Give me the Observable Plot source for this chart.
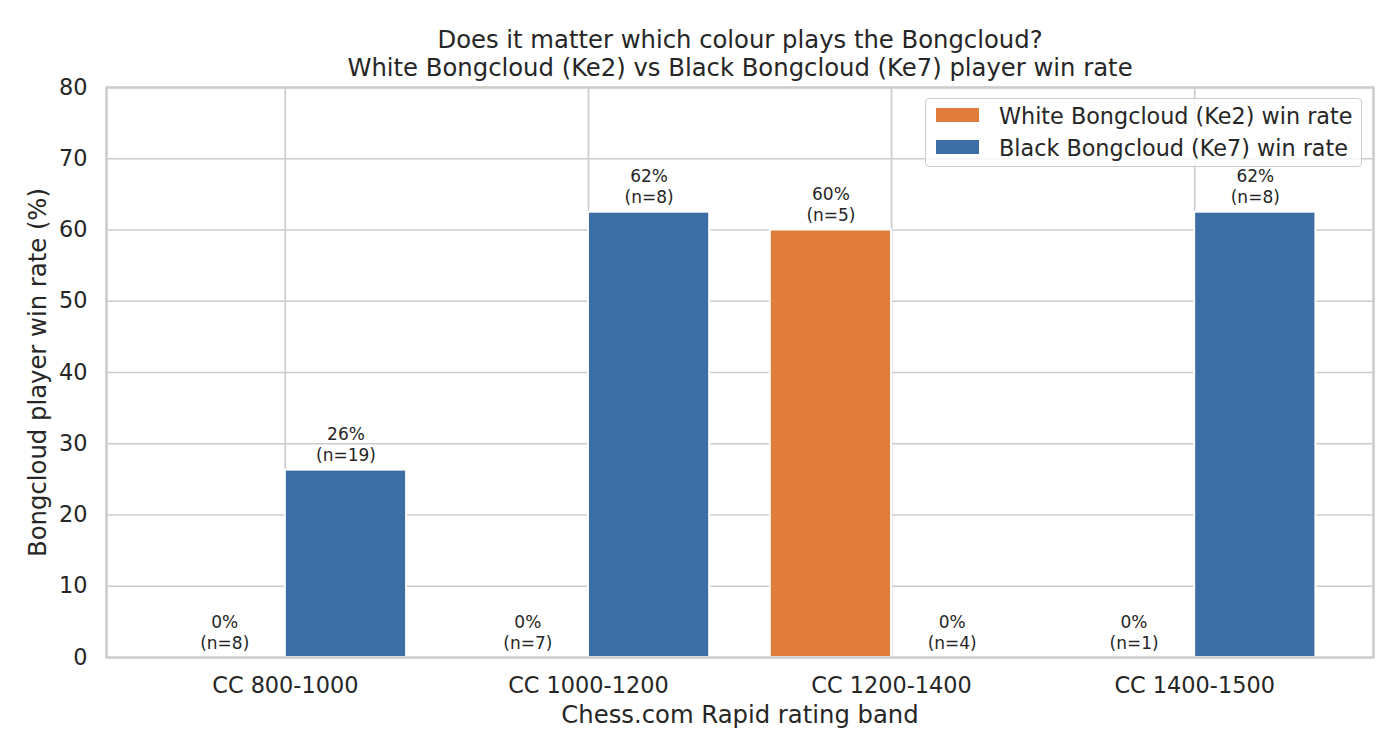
<!DOCTYPE html>
<html>
<head>
<meta charset="utf-8">
<script src="https://cdn.jsdelivr.net/npm/d3@7"></script>
<script src="https://cdn.jsdelivr.net/npm/@observablehq/plot@0.6"></script>
<style>
  html, body { margin: 0; padding: 0; background: #fff; }
  #wrap { position: relative; width: 1400px; height: 756px; font-family: "DejaVu Sans", sans-serif; color: #262626; }
  #legend { position: absolute; left: 925px; top: 98px; width: 435px; height: 67px;
            border: 1.5px solid #cccccc; border-radius: 4px; background: rgba(255,255,255,0.8); }
  .lg-item { position: absolute; left: 10px; height: 30px; }
  .lg-swatch { position: absolute; left: 0; width: 43px; height: 14px; }
  .lg-text { position: absolute; left: 63px; font-size: 22.3px; white-space: nowrap; line-height: 1; }
</style>
</head>
<body>
<div id="wrap"></div>
<script>
// ---- data ----
const bands = ["CC 800-1000", "CC 1000-1200", "CC 1200-1400", "CC 1400-1500"];
const whiteRate = [0, 0, 60, 0];
const whiteN = [8, 7, 5, 1];
const blackRate = [26.3, 62.5, 0, 62.5];
const blackN = [19, 8, 4, 8];
const seriesNames = ["White Bongcloud (Ke2) win rate", "Black Bongcloud (Ke7) win rate"];
const seriesColors = ["#e07c3c", "#3c6ea5"];
const yTicks = [0, 10, 20, 30, 40, 50, 60, 70, 80];
const xTicks = bands.map((_, i) => i);

// half-even rounding like Python's format
function roundHalfEven(v) {
  const f = Math.floor(v), d = v - f;
  if (Math.abs(d - 0.5) < 1e-9) return f % 2 === 0 ? f : f + 1;
  return Math.round(v);
}

const rows = [];
bands.forEach((b, i) => {
  rows.push({i, side: 0, rate: whiteRate[i], n: whiteN[i]});
  rows.push({i, side: 1, rate: blackRate[i], n: blackN[i]});
});
const half = 0.4;
rows.forEach(d => {
  d.x1 = d.side === 0 ? d.i - half : d.i;
  d.x2 = d.side === 0 ? d.i : d.i + half;
  d.xc = (d.x1 + d.x2) / 2;
  d.label = `${roundHalfEven(d.rate)}%\n(n=${d.n})`;
  d.color = seriesColors[d.side];
});

const textColor = "#262626";
const chart = Plot.plot({
  width: 1400,
  height: 756,
  marginLeft: 106,
  marginRight: 27,
  marginTop: 87,
  marginBottom: 99,
  style: {fontFamily: "DejaVu Sans, sans-serif", color: textColor, background: "white"},
  x: {type: "linear", domain: [-0.59, 3.59]},
  y: {domain: [0, 80]},
  marks: [
    Plot.gridY(yTicks, {stroke: "#cccccc", strokeOpacity: 1, strokeWidth: 1.7}),
    Plot.gridX(xTicks, {stroke: "#cccccc", strokeOpacity: 1, strokeWidth: 1.7}),
    Plot.rectY(rows, {x1: "x1", x2: "x2", y1: 0, y2: "rate", fill: "color", stroke: "white", strokeWidth: 2}),
    Plot.text(rows, {x: "xc", y: "rate", text: "label", lineAnchor: "bottom", lineHeight: 1.23, dy: -9, fontSize: 17, fill: textColor}),
    Plot.axisX({ticks: xTicks, tickFormat: i => bands[i], tickSize: 0, tickPadding: 20, fontSize: 22.4, label: null, fill: textColor}),
    Plot.axisY({ticks: yTicks, tickSize: 0, tickPadding: 19, fontSize: 22.4, label: null, fill: textColor}),
    Plot.frame({stroke: "#cccccc", strokeWidth: 2.5}),
    Plot.text(["Chess.com Rapid rating band"], {frameAnchor: "bottom", dy: 65, lineAnchor: "bottom", fontSize: 24.3, fill: textColor}),
    Plot.text(["Bongcloud player win rate (%)"], {frameAnchor: "left", dx: -61, rotate: -90, textAnchor: "middle", lineAnchor: "bottom", fontSize: 24.3, fill: textColor}),
    Plot.text(["Does it matter which colour plays the Bongcloud?\nWhite Bongcloud (Ke2) vs Black Bongcloud (Ke7) player win rate"],
      {frameAnchor: "top", dy: -12, lineAnchor: "bottom", lineHeight: 1.15, fontSize: 24.3, fill: textColor})
  ]
});
const wrap = document.getElementById("wrap");
wrap.appendChild(chart);

// legend
const lg = document.createElement("div");
lg.id = "legend";
seriesNames.forEach((name, k) => {
  const item = document.createElement("div");
  item.className = "lg-item";
  item.style.top = (9 + k * 32) + "px";
  const sw = document.createElement("div");
  sw.className = "lg-swatch";
  sw.style.background = seriesColors[k];
  sw.style.top = "0px";
  const tx = document.createElement("div");
  tx.className = "lg-text";
  tx.style.top = "-3px";
  tx.textContent = name;
  item.appendChild(sw);
  item.appendChild(tx);
  lg.appendChild(item);
});
wrap.appendChild(lg);
</script>
</body>
</html>
